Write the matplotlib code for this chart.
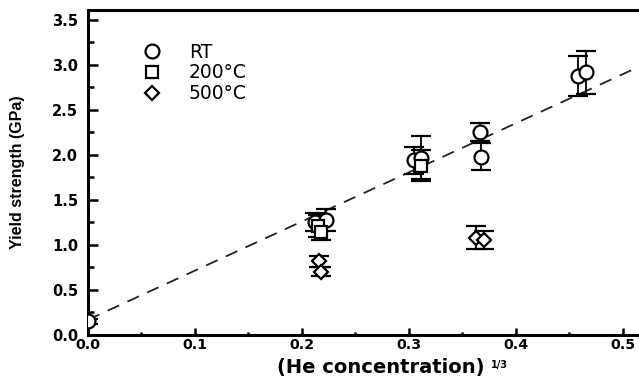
import matplotlib
matplotlib.use("Agg")
import matplotlib.pyplot as plt
from matplotlib.ticker import MultipleLocator
from matplotlib.lines import Line2D

# ---- data ----
rt_x = [0.0, 0.212, 0.222, 0.305, 0.311, 0.366, 0.367, 0.458, 0.465]
rt_y = [0.15, 1.26, 1.28, 1.94, 1.97, 2.25, 1.98, 2.88, 2.92]
rt_err = [0.03, 0.1, 0.12, 0.15, 0.24, 0.1, 0.15, 0.22, 0.24]

t200_x = [0.215, 0.218, 0.311]
t200_y = [1.21, 1.14, 1.88]
t200_err = [0.12, 0.08, 0.17]

t500_x = [0.216, 0.218, 0.363, 0.370]
t500_y = [0.82, 0.70, 1.08, 1.05]
t500_err = [0.06, 0.05, 0.13, 0.1]

fit_x = [0.0, 0.515]
fit_y = [0.17, 2.98]

x_ticks = [0.0, 0.1, 0.2, 0.3, 0.4, 0.5]
y_ticks = [0.0, 0.5, 1.0, 1.5, 2.0, 2.5, 3.0, 3.5]
labels = ['RT', '200°C', '500°C']

# ---- figure ----
plt.rcParams['font.family'] = ['DejaVu Sans']
fig = plt.figure(figsize=(6.39, 3.79), dpi=100)
ax = fig.add_axes([88/639, 1-335/379, 1-88/639, (335-10)/379])

ax.plot(fit_x, fit_y, ls=(0, (7, 5)), color='#222222', lw=1.3, zorder=1)

common = dict(ls='none', mfc='white', mec='black', ecolor='black',
              elinewidth=1.3, capsize=7, capthick=1.3, mew=1.6, zorder=3)
ax.errorbar(rt_x, rt_y, yerr=rt_err, marker='o', ms=10, **common)
ax.errorbar(t200_x, t200_y, yerr=t200_err, marker='s', ms=8.5, **common)
ax.errorbar(t500_x, t500_y, yerr=t500_err, marker='D', ms=7.5, **common)

ax.set_xlim(0, 0.515)
ax.set_ylim(0, 3.61)
ax.set_xticks(x_ticks)
ax.set_yticks(y_ticks)
ax.xaxis.set_minor_locator(MultipleLocator(0.05))
ax.yaxis.set_minor_locator(MultipleLocator(0.25))
ax.set_xticklabels([f"{v:.1f}" for v in x_ticks], fontweight='bold', fontsize=10.2)
ax.set_yticklabels([f"{v:.1f}" for v in y_ticks], fontweight='bold', fontsize=10.5)
ax.tick_params(axis='y', which='major', direction='in', length=7, width=1.8, pad=7)
ax.tick_params(axis='y', which='minor', direction='in', length=4.5, width=1.8)
ax.tick_params(axis='x', which='major', direction='in', length=5, width=1.8, pad=2)
ax.tick_params(axis='x', which='minor', direction='in', length=2, width=1.8)
ax.tick_params(top=False, right=False, which='both')

for side in ['left', 'bottom', 'top']:
    ax.spines[side].set_linewidth(2.2)
ax.spines['right'].set_visible(False)

ax.set_xlabel('(He concentration)', fontweight='bold', fontsize=14, va='baseline')
ax.xaxis.set_label_coords(0.532, -0.118)
ax.text(0.731, -0.1015, '1/3', transform=ax.transAxes, fontsize=7, fontweight='bold',
        ha='left', va='baseline')
ax.set_ylabel('Yield strength (GPa)', fontweight='bold', fontsize=11.5,
              family=['Liberation Sans Narrow', 'Liberation Sans'])
ax.yaxis.set_label_coords(-0.114, 0.5)

handles = [
    Line2D([], [], ls='none', marker='o', ms=10, mfc='white', mec='black', mew=1.6),
    Line2D([], [], ls='none', marker='s', ms=8.5, mfc='white', mec='black', mew=1.6),
    Line2D([], [], ls='none', marker='D', ms=7.5, mfc='white', mec='black', mew=1.6),
]
ax.legend(handles, labels, loc='upper left', bbox_to_anchor=(0.096, 0.9),
          frameon=False, fontsize=13.5, handlelength=1.2, handletextpad=1.35,
          labelspacing=0.1, borderpad=0, borderaxespad=0)

fig.savefig('out.png', dpi=100)
